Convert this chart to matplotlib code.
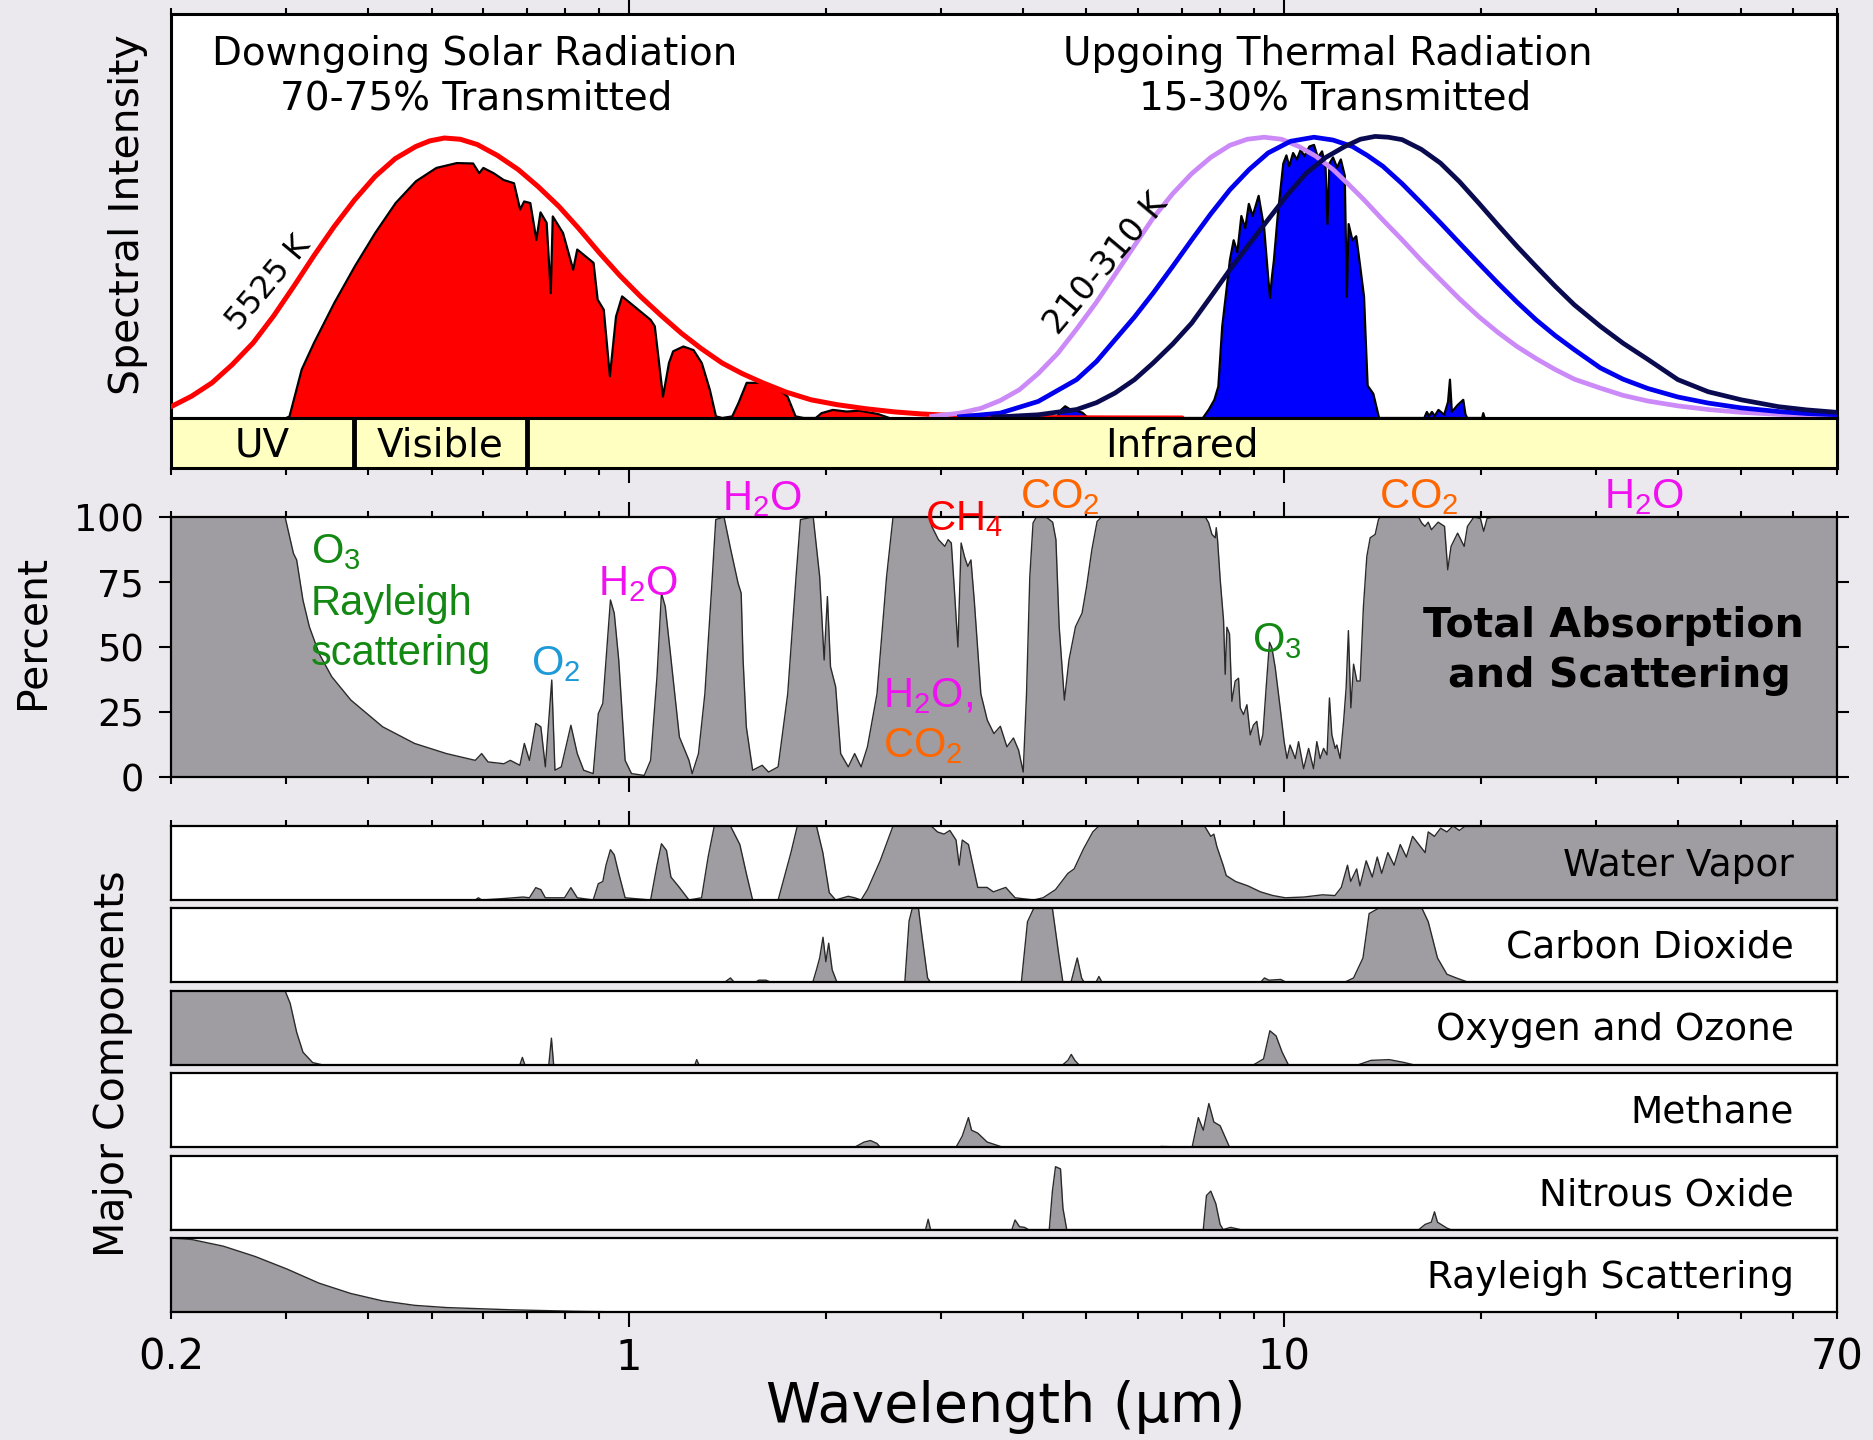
import numpy as np
import matplotlib
matplotlib.use("Agg")
import matplotlib.pyplot as plt

# ---------------------------------------------------------------- data
wavelength_limits = (0.2, 70)
major_ticks = [1, 10]
major_tick_labels = ["1", "10"]
minor_ticks = [0.2, 0.3, 0.4, 0.5, 0.6, 0.7, 0.8, 0.9, 2, 3, 4, 5, 6, 7, 8, 9,
               20, 30, 40, 50, 60, 70]
minor_tick_labels = ["0.2"] + [""] * 20 + ["70"]
percent_ticks = [0, 25, 50, 75, 100]

band_names = ["UV", "Visible", "Infrared"]
band_edges = [0.2, 0.38, 0.70, 70]

# (wavelength um, relative intensity 0-100)
solar_blackbody_5525K = [
    (0.200, 2.8), (0.215, 5.4), (0.231, 8.7), (0.248, 13.2), (0.267, 18.6), (0.287, 25.3),
    (0.308, 32.6), (0.331, 40.3), (0.355, 47.4), (0.381, 53.9), (0.410, 59.8), (0.440, 64.2),
    (0.473, 67.2), (0.497, 68.6), (0.523, 69.3), (0.553, 69.0), (0.587, 67.7), (0.630, 65.0),
    (0.678, 61.5), (0.727, 57.3), (0.782, 52.4), (0.840, 46.8), (0.903, 40.8), (0.970, 35.2),
    (1.042, 30.1), (1.120, 25.4), (1.203, 21.0), (1.290, 17.2), (1.389, 13.6), (1.490, 11.0),
    (1.603, 8.7), (1.740, 6.4), (1.899, 4.5), (2.080, 3.3), (2.300, 2.3), (2.550, 1.5),
    (2.800, 1.0), (3.100, 0.65), (3.400, 0.4), (3.800, 0.22), (4.200, 0.12), (4.800, 0.05),
    (5.500, 0.02), (7.000, 0.0)]

solar_transmitted = [
    (0.300, 0.0), (0.3034, 0.4), (0.3167, 12.0), (0.3307, 18.6), (0.3552, 28.5), (0.3816, 37.5),
    (0.4101, 45.8), (0.4406, 53.2), (0.4733, 58.6), (0.5085, 61.9), (0.5463, 63.1), (0.5786, 63.0),
    (0.5911, 60.6), (0.5998, 61.9), (0.6217, 60.6), (0.6444, 58.9), (0.6681, 58.1), (0.6826, 51.6),
    (0.6924, 53.6), (0.7075, 53.2), (0.7228, 44.1), (0.7333, 50.9), (0.7493, 48.3), (0.7603, 30.9),
    (0.7656, 49.9), (0.7937, 45.8), (0.8226, 36.7), (0.8344, 41.7), (0.8837, 38.4), (0.8965, 29.3),
    (0.9160, 26.8), (0.9359, 10.3), (0.9563, 25.1), (0.9770, 30.1), (1.080, 24.3), (1.096, 22.7),
    (1.128, 5.3), (1.152, 13.6), (1.169, 16.5), (1.212, 17.7), (1.256, 16.8), (1.293, 13.6),
    (1.330, 7.0), (1.359, 0.4), (1.390, 0.0), (1.439, 0.4), (1.471, 3.7), (1.514, 8.7),
    (1.603, 8.7), (1.698, 7.0), (1.748, 5.3), (1.798, 0.4), (1.850, 0.0), (1.930, 0.0),
    (1.970, 1.2), (2.050, 2.0), (2.150, 1.6), (2.250, 1.8), (2.400, 1.0), (2.500, 0.0)]

thermal_blackbody_310K = [
    (2.90, 0.4), (3.20, 1.2), (3.45, 2.4), (3.69, 4.3), (3.95, 7.0), (4.22, 11.0), (4.52, 16.0),
    (4.83, 22.0), (5.17, 28.5), (5.53, 35.5), (5.91, 42.5), (6.32, 49.5), (6.77, 55.5),
    (7.24, 60.5), (7.74, 64.5), (8.28, 67.5), (8.80, 69.0), (9.34, 69.5), (9.93, 69.0),
    (10.55, 67.2), (11.20, 64.8), (11.90, 61.5), (12.57, 57.8), (13.27, 54.0), (14.18, 49.0),
    (15.17, 44.1), (16.23, 39.0), (17.36, 34.2), (18.56, 29.5), (19.86, 25.1), (21.24, 21.2),
    (22.72, 17.7), (24.30, 14.7), (25.99, 12.0), (27.80, 9.6), (30.46, 7.4), (33.0, 5.6),
    (36.0, 4.2), (40.0, 3.0), (44.5, 2.1), (50.0, 1.4), (57.0, 0.9), (63.0, 0.6), (70.0, 0.45)]

thermal_blackbody_260K = [
    (3.20, 0.3), (3.69, 1.2), (4.22, 4.1), (4.83, 9.5), (5.18, 14.0), (5.53, 19.4), (5.92, 25.0),
    (6.32, 30.9), (6.77, 37.5), (7.24, 44.1), (7.74, 50.5), (8.28, 56.5), (8.86, 61.5),
    (9.47, 65.6), (10.25, 68.5), (11.13, 69.5), (11.90, 68.8), (12.74, 67.2), (13.42, 65.0),
    (14.18, 62.3), (15.17, 58.0), (16.23, 53.2), (17.36, 48.3), (18.56, 43.3), (19.86, 38.3),
    (21.24, 33.4), (22.72, 28.7), (24.30, 24.3), (25.99, 20.4), (27.80, 16.9), (30.46, 12.4),
    (33.0, 9.6), (36.0, 7.3), (40.0, 5.2), (44.5, 3.7), (50.0, 2.5), (57.0, 1.6), (63.0, 1.1),
    (70.0, 0.8)]

thermal_blackbody_210K = [
    (3.60, 0.2), (4.22, 0.8), (4.83, 2.1), (5.18, 3.8), (5.53, 6.2), (5.92, 9.5), (6.32, 13.6),
    (6.77, 18.3), (7.24, 23.5), (7.74, 30.0), (8.28, 36.7), (8.86, 43.0), (9.47, 49.1),
    (10.13, 55.2), (10.83, 60.6), (11.60, 64.5), (12.40, 67.2), (13.10, 69.0), (13.80, 69.7),
    (14.45, 69.5), (15.17, 68.9), (16.23, 66.5), (17.36, 63.1), (18.56, 58.5), (19.86, 53.2),
    (21.24, 47.8), (22.72, 42.5), (24.30, 37.5), (25.99, 32.6), (27.80, 28.0), (30.46, 22.7),
    (33.0, 18.5), (36.0, 14.5), (40.0, 9.5), (44.5, 6.5), (50.0, 4.5), (57.0, 2.8), (63.0, 2.0),
    (70.0, 1.4)]

thermal_transmitted = [
    (4.50, 0.0), (4.58, 2.1), (4.64, 2.9), (4.735, 2.0), (4.832, 1.8), (4.93, 1.3), (5.03, 0.0),
    (7.53, 0.0), (7.69, 2.1), (7.84, 4.5), (7.95, 7.8), (8.06, 22.7), (8.17, 30.9), (8.28, 39.1),
    (8.39, 44.0), (8.50, 41.0), (8.62, 50.0), (8.74, 47.0), (8.85, 53.0), (8.97, 50.0),
    (9.16, 55.0), (9.34, 47.0), (9.47, 35.0), (9.535, 29.7), (9.60, 35.0), (9.665, 39.0),
    (9.795, 50.0), (9.99, 63.0), (10.10, 65.0), (10.20, 62.3), (10.34, 65.6), (10.48, 64.0),
    (10.62, 66.4), (10.76, 64.8), (10.95, 67.2), (11.13, 67.6), (11.28, 64.5), (11.45, 66.0),
    (11.59, 62.0), (11.67, 48.0), (11.75, 63.0), (11.90, 64.5), (12.07, 62.0), (12.23, 64.0),
    (12.40, 60.0), (12.49, 30.0), (12.57, 48.0), (12.74, 44.0), (12.91, 45.0), (13.08, 38.0),
    (13.27, 30.0), (13.36, 18.0), (13.44, 8.0), (13.71, 6.0), (13.99, 0.0),
    (16.40, 0.0), (16.55, 1.5), (16.67, 0.5), (16.85, 1.5), (17.01, 0.5), (17.24, 2.0),
    (17.59, 0.8), (17.83, 4.0), (17.95, 9.5), (18.07, 1.5), (18.44, 3.2), (18.81, 4.5),
    (18.95, 1.0), (19.07, 0.0), (20.10, 0.0), (20.18, 1.2), (20.28, 0.0)]

# (wavelength um, percent)
total_absorption = [
    (0.200, 100), (0.2987, 100), (0.3076, 86), (0.3111, 83.5), (0.3181, 68), (0.3253, 57.8),
    (0.3365, 47.6), (0.3519, 38.6), (0.3764, 29.6), (0.4210, 19.3), (0.4710, 12.9), (0.5269, 9.0),
    (0.5830, 6.4), (0.5962, 9.0), (0.6097, 5.8), (0.6447, 5.1), (0.6594, 6.4), (0.6820, 4.5),
    (0.6928, 12.9), (0.7053, 6.4), (0.7212, 20.6), (0.7342, 19.3), (0.7459, 3.9), (0.7629, 37.3),
    (0.7715, 2.6), (0.7890, 3.9), (0.8160, 19.9), (0.8345, 9.0), (0.8535, 2.6), (0.8826, 1.3),
    (0.8986, 24.4), (0.9129, 28.3), (0.9232, 45), (0.9378, 68.1), (0.9504, 63), (0.9655, 45),
    (0.9874, 6.4), (1.0098, 1.3), (1.0561, 0.6), (1.080, 6.4), (1.1045, 38.6), (1.122, 70.7),
    (1.137, 65.6), (1.155, 50), (1.195, 15.4), (1.236, 6.4), (1.250, 1.3), (1.278, 9.0),
    (1.307, 32), (1.337, 70.7), (1.358, 99), (1.398, 100), (1.430, 88), (1.469, 74.5),
    (1.485, 70.7), (1.495, 45), (1.512, 19.3), (1.546, 2.6), (1.599, 4.5), (1.635, 1.9),
    (1.691, 3.9), (1.749, 32), (1.801, 77), (1.829, 99), (1.913, 100), (1.957, 77), (1.988, 45),
    (2.011, 69.4), (2.033, 42.4), (2.070, 34.7), (2.107, 9.0), (2.164, 3.9), (2.213, 9.0),
    (2.264, 3.9), (2.315, 11.6), (2.394, 32), (2.476, 77), (2.533, 100), (2.880, 100),
    (2.903, 96.4), (2.971, 91.3), (3.039, 88.7), (3.074, 91.3), (3.109, 90), (3.145, 70.7),
    (3.182, 50), (3.218, 90), (3.256, 84.8), (3.294, 81), (3.331, 83.5), (3.370, 68), (3.409, 50),
    (3.449, 32), (3.528, 21.9), (3.611, 16.7), (3.694, 19.5), (3.780, 11.6), (3.868, 15),
    (3.939, 10.3), (4.003, 1.9), (4.050, 32), (4.097, 77), (4.144, 97.7), (4.193, 100),
    (4.339, 100), (4.440, 98), (4.491, 91.3), (4.543, 57.8), (4.627, 29.6), (4.702, 45),
    (4.811, 57.8), (4.923, 63), (5.003, 73.3), (5.096, 87.4), (5.191, 98.3), (5.275, 100),
    (7.594, 100), (7.683, 97.8), (7.774, 93.3), (7.864, 92), (7.892, 95.9), (7.929, 91),
    (8.003, 75.8), (8.097, 60.2), (8.144, 39.5), (8.193, 57.6), (8.269, 55), (8.337, 29.1),
    (8.436, 36.9), (8.535, 38), (8.586, 26.6), (8.687, 24), (8.790, 27.8), (8.894, 16.2),
    (8.995, 20), (9.101, 21.4), (9.209, 12.3), (9.297, 16.2), (9.405, 34.3), (9.517, 51.8),
    (9.596, 49.8), (9.710, 42.1), (9.881, 26.6), (10.02, 13.6), (10.12, 7.1), (10.23, 12.3),
    (10.42, 7.1), (10.54, 13.6), (10.73, 3.2), (10.92, 11), (11.11, 3.2), (11.24, 13.6),
    (11.37, 7.1), (11.51, 11), (11.65, 8.5), (11.75, 30.4), (11.85, 16.2), (11.99, 11),
    (12.06, 12.3), (12.20, 7.1), (12.35, 21.4), (12.46, 34.3), (12.56, 56.3), (12.67, 26.6),
    (12.79, 43.4), (12.94, 36.9), (13.09, 36.9), (13.24, 65.4), (13.40, 84.8), (13.56, 92),
    (13.80, 93.3), (13.96, 99), (14.04, 100), (16.07, 100), (16.25, 97.7), (16.44, 96.4),
    (16.63, 98), (16.82, 95.1), (17.22, 98), (17.61, 96.4), (17.81, 79.7), (18.02, 88.7),
    (18.44, 93.8), (18.87, 88.7), (19.09, 96.4), (19.53, 100), (19.98, 99.4), (20.21, 94.5),
    (20.45, 99.4), (20.93, 100), (70.0, 100)]

# (wavelength um, fraction of panel)
water_vapor = [
    (0.200, 0), (0.583, 0), (0.5895, 0.03), (0.5962, 0), (0.6447, 0.02), (0.6896, 0.04),
    (0.7053, 0.03), (0.7212, 0.167), (0.7342, 0.14), (0.7459, 0.03), (0.7980, 0.03),
    (0.8160, 0.167), (0.8345, 0.03), (0.8826, 0.0), (0.8986, 0.22), (0.9129, 0.25),
    (0.9232, 0.47), (0.9378, 0.68), (0.9504, 0.61), (0.9655, 0.36), (0.9874, 0.03), (1.080, 0.0),
    (1.1045, 0.47), (1.122, 0.76), (1.142, 0.67), (1.160, 0.31), (1.195, 0.17), (1.236, 0.0),
    (1.292, 0.03), (1.322, 0.58), (1.351, 1.0), (1.430, 1.0), (1.478, 0.75), (1.512, 0.36),
    (1.546, 0.0), (1.691, 0.0), (1.769, 0.64), (1.809, 1.0), (1.935, 1.0), (1.979, 0.64),
    (2.024, 0.10), (2.070, 0.0), (2.164, 0.05), (2.213, 0.03), (2.264, 0.0), (2.315, 0.14),
    (2.421, 0.53), (2.533, 1.0), (2.897, 1.0), (2.961, 0.92), (3.030, 0.89), (3.093, 0.94),
    (3.161, 0.81), (3.196, 0.47), (3.231, 0.81), (3.302, 0.75), (3.375, 0.36), (3.412, 0.17),
    (3.526, 0.17), (3.604, 0.11), (3.765, 0.17), (3.890, 0.03), (4.154, 0.0), (4.293, 0.03),
    (4.485, 0.14), (4.584, 0.25), (4.685, 0.36), (4.788, 0.42), (4.948, 0.69), (5.113, 0.92),
    (5.224, 1.0), (7.574, 1.0), (7.742, 0.86), (7.826, 0.89), (7.910, 0.72), (8.086, 0.47),
    (8.175, 0.33), (8.448, 0.25), (8.826, 0.19), (9.220, 0.11), (9.632, 0.06), (10.06, 0.03),
    (10.74, 0.04), (11.47, 0.07), (11.98, 0.06), (12.25, 0.17), (12.52, 0.47), (12.66, 0.25),
    (12.93, 0.42), (13.08, 0.19), (13.37, 0.53), (13.66, 0.31), (13.90, 0.58), (14.12, 0.36),
    (14.43, 0.64), (14.75, 0.47), (15.07, 0.75), (15.40, 0.58), (15.74, 0.86), (16.09, 0.75),
    (16.45, 0.64), (16.63, 0.92), (17.00, 0.86), (17.37, 0.97), (17.76, 0.92), (18.15, 1.0),
    (18.55, 0.94), (18.95, 1.0), (70.0, 1.0)]

carbon_dioxide = [
    (0.200, 0), (1.400, 0), (1.430, 0.06), (1.450, 0), (1.560, 0), (1.580, 0.03), (1.620, 0.03),
    (1.650, 0), (1.910, 0), (1.935, 0.17), (1.957, 0.33), (1.980, 0.61), (2.000, 0.28),
    (2.020, 0.53), (2.045, 0.17), (2.080, 0), (2.640, 0), (2.680, 0.83), (2.710, 1.0),
    (2.770, 1.0), (2.800, 0.67), (2.860, 0.06), (2.890, 0), (3.977, 0), (4.064, 0.82),
    (4.154, 1.0), (4.436, 1.0), (4.534, 0.39), (4.603, 0), (4.735, 0), (4.841, 0.33),
    (4.915, 0.06), (4.960, 0), (5.170, 0), (5.224, 0.08), (5.282, 0), (9.220, 0), (9.350, 0.06),
    (9.500, 0.03), (9.900, 0.04), (10.10, 0), (12.38, 0), (12.79, 0.06), (13.22, 0.33),
    (13.51, 0.93), (13.96, 1.0), (16.27, 1.0), (16.63, 0.82), (17.18, 0.33), (17.76, 0.11),
    (18.35, 0.06), (19.17, 0), (70.0, 0)]

oxygen_ozone = [
    (0.200, 1.0), (0.2987, 1.0), (0.3041, 0.83), (0.3111, 0.44), (0.3181, 0.17), (0.3291, 0.03),
    (0.3403, 0), (0.682, 0), (0.688, 0.10), (0.694, 0), (0.755, 0), (0.762, 0.36), (0.768, 0),
    (1.262, 0), (1.270, 0.07), (1.280, 0), (4.600, 0), (4.685, 0.06), (4.740, 0.14),
    (4.800, 0.06), (4.870, 0), (9.000, 0), (9.320, 0.08), (9.530, 0.46), (9.740, 0.39),
    (9.950, 0.17), (10.17, 0), (13.00, 0), (13.60, 0.06), (14.50, 0.07), (15.30, 0.03),
    (15.80, 0), (70.0, 0)]

methane = [
    (0.200, 0), (2.213, 0), (2.289, 0.07), (2.340, 0.09), (2.394, 0.05), (2.421, 0),
    (3.161, 0), (3.231, 0.15), (3.302, 0.40), (3.338, 0.23), (3.412, 0.19), (3.526, 0.07),
    (3.724, 0), (6.450, 0), (6.500, 0.01), (7.250, 0), (7.410, 0.40), (7.540, 0.23),
    (7.690, 0.59), (7.826, 0.34), (8.000, 0.29), (8.270, 0), (70.0, 0)]

nitrous_oxide = [
    (0.200, 0), (2.840, 0), (2.866, 0.14), (2.890, 0), (3.847, 0), (3.890, 0.13), (3.951, 0.04),
    (4.021, 0.03), (4.080, 0), (4.387, 0), (4.436, 0.52), (4.485, 0.85), (4.564, 0.82),
    (4.603, 0.29), (4.665, 0), (7.540, 0), (7.625, 0.46), (7.742, 0.52), (7.880, 0.35),
    (8.000, 0.07), (8.086, 0), (8.300, 0.03), (8.600, 0), (16.09, 0), (16.45, 0.07),
    (16.81, 0.10), (17.00, 0.24), (17.18, 0.10), (17.76, 0.02), (18.00, 0), (70.0, 0)]

rayleigh_scattering = [
    (0.200, 1.0), (0.2149, 0.98), (0.2403, 0.89), (0.2689, 0.75), (0.3008, 0.58),
    (0.3365, 0.39), (0.3764, 0.25), (0.421, 0.15), (0.471, 0.09), (0.5269, 0.06),
    (0.6594, 0.03), (0.8254, 0.01), (1.0, 0.0), (70.0, 0.0)]

component_names = ["Water Vapor", "Carbon Dioxide", "Oxygen and Ozone", "Methane",
                   "Nitrous Oxide", "Rayleigh Scattering"]
component_series = [water_vapor, carbon_dioxide, oxygen_ozone, methane, nitrous_oxide,
                    rayleigh_scattering]

# ---------------------------------------------------------------- style
BG = "#ECE9EE"
GRAY = "#9F9DA1"
BAND_YELLOW = "#FFFFC2"
MAGENTA = "#F011F0"
ORANGE = "#FF6600"
GREEN = "#138813"
RED = "#FF0000"
CYAN = "#1E9AD8"

plt.rcParams["font.family"] = ["DejaVu Sans"]
plt.rcParams["mathtext.fontset"] = "custom"
plt.rcParams["mathtext.rm"] = "Liberation Sans"
plt.rcParams["mathtext.it"] = "Liberation Sans:italic"
plt.rcParams["mathtext.bf"] = "Liberation Sans:bold"

W_PX, H_PX = 1874, 1440
X0_PX, X1_PX = 171, 1837
PT = 72.0 / 100.0  # points per pixel

fig = plt.figure(figsize=(W_PX / 100, H_PX / 100), dpi=100, facecolor=BG)


def axes_at(top, bottom):
    return fig.add_axes([X0_PX / W_PX, 1 - bottom / H_PX, (X1_PX - X0_PX) / W_PX,
                         (bottom - top) / H_PX])


def setup_x(ax, top=False, bottom=False, labels=False, spine_lw=1.6):
    ax.set_xscale("log")
    ax.set_xlim(*wavelength_limits)
    ax.set_xticks(major_ticks, labels=major_tick_labels)
    ax.set_xticks(minor_ticks, labels=minor_tick_labels, minor=True)
    ax.tick_params(axis="x", which="both", top=top, bottom=bottom, labeltop=False,
                   labelbottom=labels, direction="out", width=1.5, labelsize=30)
    ax.tick_params(axis="x", which="major", length=15 * PT, pad=10 * PT)
    ax.tick_params(axis="x", which="minor", length=6.5 * PT, pad=18.5 * PT)
    for s in ax.spines.values():
        s.set_linewidth(spine_lw)


def xy(series):
    arr = np.array(series, dtype=float)
    return arr[:, 0], arr[:, 1]


# ---------------------------------------------------------------- top: spectra
ax_top = axes_at(14, 418)
setup_x(ax_top, top=True, spine_lw=2.2)
ax_top.set_ylim(0, 100)
ax_top.set_yticks([])
ax_top.set_facecolor("white")

wl, v = xy(solar_transmitted)
ax_top.fill_between(wl, 0, v, color=RED, lw=0, zorder=2)
ax_top.plot(wl, v, color="black", lw=1.6, zorder=2.5)

wl, v = xy(thermal_transmitted)
ax_top.fill_between(wl, 0, v, color="#0000FF", lw=0, zorder=2)
ax_top.plot(wl, v, color="black", lw=1.6, zorder=2.5)

wl, v = xy(solar_blackbody_5525K)
ax_top.plot(wl, v, color=RED, lw=3.6, zorder=3, solid_capstyle="round")
for series, col in [(thermal_blackbody_310K, "#CB8AF7"),
                    (thermal_blackbody_260K, "#0000EE"),
                    (thermal_blackbody_210K, "#0A0A50")]:
    wl, v = xy(series)
    ax_top.plot(wl, v, color=col, lw=3.4, zorder=3)

# ---------------------------------------------------------------- band bar
ax_band = axes_at(418, 468)
setup_x(ax_band, bottom=True, spine_lw=2.2)
ax_band.set_ylim(0, 1)
ax_band.set_yticks([])
ax_band.set_facecolor(BAND_YELLOW)
for edge in band_edges[1:-1]:
    ax_band.axvline(edge, color="black", lw=3.5)
for name, lo, hi in zip(band_names, band_edges[:-1], band_edges[1:]):
    ax_band.text(np.sqrt(lo * hi), 0.22, name, ha="center", va="baseline", fontsize=28)

# ---------------------------------------------------------------- middle: total
ax_mid = axes_at(517, 777)
setup_x(ax_mid, top=True, bottom=True)
ax_mid.set_ylim(0, 100)
ax_mid.set_yticks(percent_ticks)
ax_mid.tick_params(axis="y", left=True, right=True, labelleft=True, labelright=False,
                   direction="out", length=12 * PT, width=1.5, labelsize=26.5, pad=11)
ax_mid.set_facecolor("white")
wl, v = xy(total_absorption)
ax_mid.fill_between(wl, 0, v, color=GRAY, lw=0)
ax_mid.plot(wl, v, color="#2A2A2A", lw=1.0)

# ---------------------------------------------------------------- components
tops = [826, 908.4, 990.8, 1073.2, 1155.6, 1238]
comp_h = 74
for i, (name, series) in enumerate(zip(component_names, component_series)):
    ax = axes_at(tops[i], tops[i] + comp_h)
    setup_x(ax, top=(i == 0), bottom=(i == len(tops) - 1), labels=(i == len(tops) - 1))
    ax.set_ylim(0, 1)
    ax.set_yticks([])
    ax.set_facecolor("white")
    wl, v = xy(series)
    ax.fill_between(wl, 0, v, color=GRAY, lw=0)
    ax.plot(wl, v, color="#2A2A2A", lw=1.0)
    ax.text(0.9742, 0.33, name, transform=ax.transAxes, ha="right", va="baseline",
            fontsize=27)


# ---------------------------------------------------------------- texts
def ftext(x, y, s, **kw):
    fig.text(x / W_PX, 1 - y / H_PX, s, **kw)


ftext(128, 215, "Spectral Intensity", rotation=90, ha="center", va="center", fontsize=29.5)
ftext(33, 632, "Percent", rotation=90, ha="center", va="center", fontsize=29.5)
ftext(113, 1064, "Major Components", rotation=90, ha="center", va="center", fontsize=29.5)
ftext(1006, 1422, "Wavelength (\u03bcm)", ha="center", va="baseline", fontsize=40)

ftext(475, 65, "Downgoing Solar Radiation", ha="center", va="baseline", fontsize=28)
ftext(476, 110, "70-75% Transmitted", ha="center", va="baseline", fontsize=28)
ftext(1328, 65, "Upgoing Thermal Radiation", ha="center", va="baseline", fontsize=28)
ftext(1335, 110, "15-30% Transmitted", ha="center", va="baseline", fontsize=28)
ftext(269, 283, "5525 K", rotation=50, ha="center", va="center", fontsize=23)
ftext(1106, 264, "210-310 K", rotation=50, ha="center", va="center", fontsize=24)

ftext(1613, 637, "Total Absorption", ha="center", va="baseline", fontsize=29.5,
      fontweight="bold")
ftext(1619, 687, "and Scattering", ha="center", va="baseline", fontsize=29.5,
      fontweight="bold")

mol = dict(ha="left", va="baseline", fontsize=30, family="Liberation Sans")
ftext(311, 563, r"O$_\mathrm{3}$", color=GREEN, **mol)
ftext(311, 615, "Rayleigh", color=GREEN, **mol)
ftext(311, 665, "scattering", color=GREEN, **mol)
ftext(531, 675, r"O$_\mathrm{2}$", color=CYAN, **mol)
ftext(598, 595, r"H$_\mathrm{2}$O", color=MAGENTA, **mol)
ftext(722, 510, r"H$_\mathrm{2}$O", color=MAGENTA, **mol)
ftext(925, 530, r"CH$_\mathrm{4}$", color=RED, **mol)
ftext(1020, 508, r"CO$_\mathrm{2}$", color=ORANGE, **mol)
ftext(883, 707, r"H$_\mathrm{2}$O,", color=MAGENTA, **mol)
ftext(883, 757, r"CO$_\mathrm{2}$", color=ORANGE, **mol)
ftext(1252, 652, r"O$_\mathrm{3}$", color=GREEN, **mol)
ftext(1379, 508, r"CO$_\mathrm{2}$", color=ORANGE, **mol)
ftext(1604, 508, r"H$_\mathrm{2}$O", color=MAGENTA, **mol)

fig.savefig("out.png", dpi=100, facecolor=BG)
